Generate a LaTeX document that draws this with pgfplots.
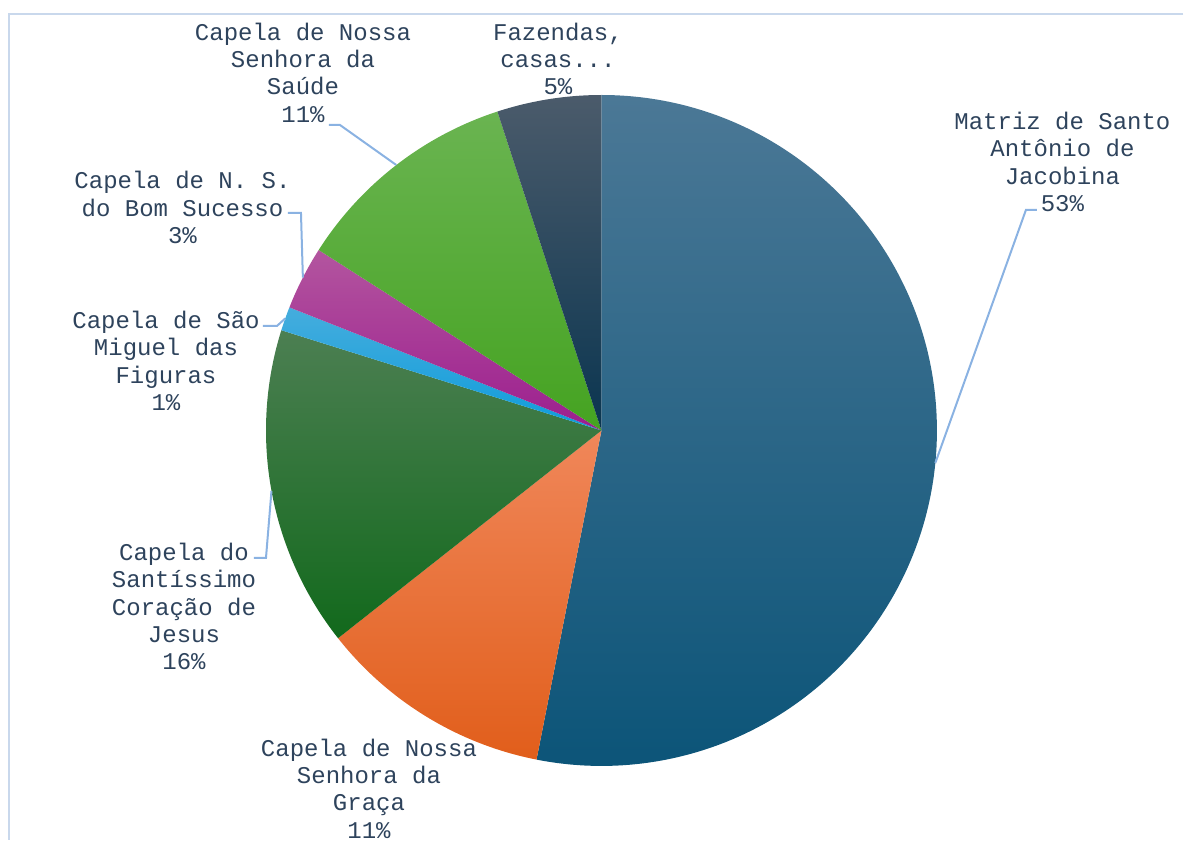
\documentclass[border=0pt]{standalone}
\usepackage{pgfplots}
\usepackage{pgfplotstable}
\pgfplotsset{compat=1.18}
\usepackage{fontspec}
\newfontfamily\lmono{Liberation Mono}

% slice colours (top / bottom of the gradient)
\definecolor{top0}{HTML}{4B7896}\definecolor{bot0}{HTML}{0B5478}
\definecolor{top1}{HTML}{F0875A}\definecolor{bot1}{HTML}{E15E1B}
\definecolor{top2}{HTML}{4C7F52}\definecolor{bot2}{HTML}{12691C}
\definecolor{top3}{HTML}{45ADDD}\definecolor{bot3}{HTML}{0E9CDB}
\definecolor{top4}{HTML}{B3559F}\definecolor{bot4}{HTML}{9C1E8E}
\definecolor{top5}{HTML}{6AB451}\definecolor{bot5}{HTML}{45A321}
\definecolor{top6}{HTML}{4B5B6B}\definecolor{bot6}{HTML}{0A3550}
\definecolor{lbl}{HTML}{2E435C}
\definecolor{leader}{HTML}{8AB2E2}
\definecolor{frame}{HTML}{C9D8EC}

% share of each slice, clockwise from 12 o'clock (percent)
\pgfplotstableread{
idx value
0 53.10
1 11.27
2 15.46
3 1.15
4 3.06
5 10.94
6 5.02
}\piedata

\begin{document}
\begin{tikzpicture}
\begin{axis}[
  x=0.5pt, y=0.5pt,
  xmin=0, xmax=1184, ymin=0, ymax=841,
  y dir=reverse,
  hide axis, clip=false,
]
\pgfplotsextra{
  \path (axis cs:0,0) rectangle (axis cs:1184,841);
  \pgfplotstablegetrowsof{\piedata}
  \pgfmathtruncatemacro\N{\pgfplotsretval-1}
  \gdef\cum{0}
  \foreach \i in {0,...,\N}{
    \pgfplotstablegetelem{\i}{value}\of\piedata
    \let\v\pgfplotsretval
    \pgfmathsetmacro\a{\cum*3.6}
    \pgfmathsetmacro\b{(\cum+\v)*3.6}
    \shade[top color=top\i, bottom color=bot\i]
      (axis cs:601.5,430.5) -- (axis cs:{601.5+335.5*sin(\a)},{430.5-335.5*cos(\a)})
      arc[start angle={90-\a}, end angle={90-\b}, radius=167.75pt] -- cycle;
    \pgfmathsetmacro\c{\cum+\v}
    \xdef\cum{\c}
  }
  % chart-area frame
  \draw[frame, line width=0.6pt] (axis cs:1183.5,14) -- (axis cs:9,14) -- (axis cs:9,840.5);
  % leader lines
  \begin{scope}[leader, line width=1pt]
    \draw (axis cs:329,125) -- (axis cs:340,125) -- (axis cs:396.3,165);
    \draw (axis cs:288,213) -- (axis cs:301,213) -- (axis cs:302.9,277.7);
    \draw (axis cs:263,326) -- (axis cs:277,326) -- (axis cs:285.2,318.5);
    \draw (axis cs:254,558) -- (axis cs:266,558) -- (axis cs:271.5,491);
    \draw (axis cs:1037,210) -- (axis cs:1026,210) -- (axis cs:935.4,463);
  \end{scope}
  % labels
  \begin{scope}[every node/.style={align=center, inner sep=0pt, text=lbl,
      font=\lmono\fontsize{12}{13.65}\selectfont}]
    \node at (axis cs:1062.5,162) {Matriz de Santo\\Antônio de\\Jacobina\\53\%};
    \node at (axis cs:369,788.5) {Capela de Nossa\\Senhora da\\Graça\\11\%};
    \node at (axis cs:184,606.5) {Capela do\\Santíssimo\\Coração de\\Jesus\\16\%};
    \node at (axis cs:166,361) {Capela de São\\Miguel das\\Figuras\\1\%};
    \node at (axis cs:182.5,207.5) {Capela de N. S.\\do Bom Sucesso\\3\%};
    \node at (axis cs:303,72.5) {Capela de Nossa\\Senhora da\\Saúde\\11\%};
    \node at (axis cs:558,59) {Fazendas,\\casas...\\5\%};
  \end{scope}
}
\end{axis}
\end{tikzpicture}
\end{document}
